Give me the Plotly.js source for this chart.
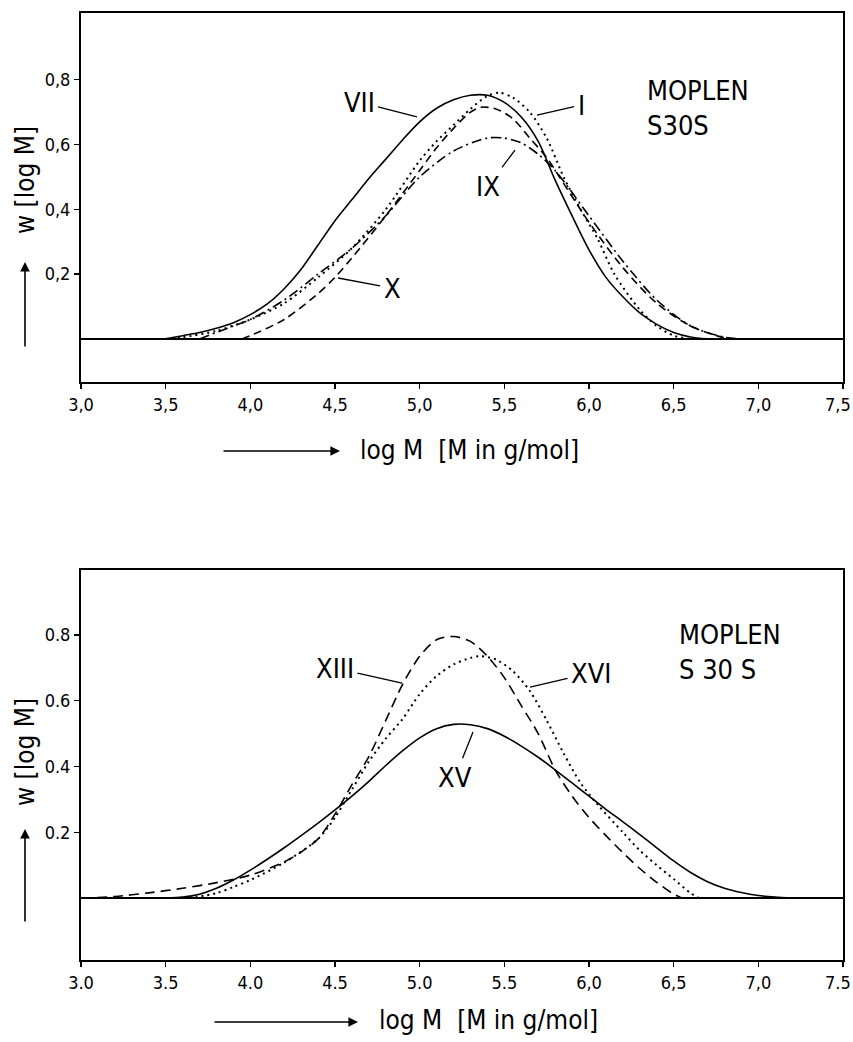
<!DOCTYPE html>
<html><head><meta charset="utf-8">
<script src="https://cdn.plot.ly/plotly-3.0.1.min.js"></script>
<style>html,body{margin:0;padding:0;background:#fff}</style>
</head><body><div id="chart" style="width:853px;height:1042px"></div>
<script>
// ---- Top panel (MOPLEN S30S: I, VII, IX, X) ----
const xVII = [3.5,3.6,3.7,3.8,3.9,4.0,4.1,4.2,4.3,4.4,4.5,4.6,4.7,4.8,4.9,5.0,5.1,5.2,5.3,5.4,5.5,5.6,5.7,5.8,5.9,6.0,6.1,6.2,6.3,6.4,6.5,6.6,6.7];
const yVII = [0,0.01,0.02,0.033,0.05,0.075,0.108,0.155,0.215,0.29,0.365,0.43,0.495,0.555,0.615,0.67,0.712,0.738,0.752,0.752,0.73,0.685,0.61,0.49,0.38,0.275,0.19,0.13,0.08,0.045,0.02,0.006,0];
const xI = [3.5,3.6,3.8,4.0,4.2,4.4,4.6,4.8,5.0,5.1,5.2,5.3,5.4,5.47,5.55,5.65,5.75,5.85,5.95,6.05,6.15,6.3,6.4,6.5,6.6];
const yI = [0,0.005,0.025,0.06,0.11,0.19,0.28,0.40,0.55,0.61,0.66,0.71,0.75,0.76,0.745,0.70,0.62,0.50,0.40,0.31,0.20,0.09,0.04,0.01,0];
const xIX = [3.7,3.9,4.0,4.2,4.4,4.6,4.8,5.0,5.2,5.4,5.5,5.6,5.7,5.8,6.0,6.2,6.4,6.6,6.8,6.9];
const yIX = [0,0.04,0.06,0.12,0.20,0.28,0.38,0.50,0.58,0.62,0.62,0.605,0.57,0.52,0.38,0.24,0.12,0.04,0.005,0];
const xX = [3.95,4.0,4.2,4.4,4.5,4.6,4.8,5.0,5.1,5.2,5.3,5.36,5.45,5.55,5.65,5.75,5.85,6.0,6.2,6.4,6.6,6.8,6.85];
const yX = [0,0.01,0.06,0.14,0.19,0.25,0.38,0.52,0.59,0.65,0.70,0.715,0.71,0.68,0.62,0.56,0.48,0.36,0.22,0.11,0.04,0.003,0];

// ---- Bottom panel (MOPLEN S30S: XIII, XV, XVI) ----
const xXV = [3.5,3.6,3.7,3.8,3.9,4.0,4.1,4.2,4.3,4.4,4.5,4.6,4.7,4.8,4.9,5.0,5.1,5.2,5.3,5.4,5.5,5.6,5.7,5.8,5.9,6.0,6.1,6.2,6.3,6.4,6.5,6.6,6.7,6.8,6.9,7.0,7.1,7.2];
const yXV = [0,0.003,0.012,0.03,0.055,0.085,0.118,0.153,0.19,0.228,0.268,0.31,0.355,0.403,0.448,0.487,0.515,0.528,0.527,0.515,0.492,0.462,0.428,0.39,0.35,0.31,0.27,0.232,0.193,0.153,0.113,0.078,0.05,0.03,0.017,0.008,0.003,0];
const xXIII = [3.0,3.2,3.4,3.6,3.8,4.0,4.2,4.3,4.4,4.5,4.6,4.7,4.8,4.9,5.0,5.1,5.2,5.3,5.4,5.5,5.6,5.7,5.8,5.9,6.0,6.1,6.2,6.3,6.4,6.5,6.55];
const yXIII = [0,0.005,0.016,0.03,0.047,0.07,0.11,0.14,0.18,0.255,0.345,0.43,0.54,0.65,0.735,0.785,0.795,0.78,0.735,0.67,0.585,0.50,0.39,0.31,0.245,0.19,0.138,0.09,0.048,0.012,0];
const xXVI = [3.64,3.8,3.9,4.0,4.2,4.4,4.5,4.6,4.7,4.8,4.9,5.0,5.1,5.2,5.3,5.36,5.45,5.55,5.65,5.75,5.85,5.95,6.05,6.2,6.3,6.4,6.5,6.6,6.65];
const yXVI = [0,0.015,0.034,0.055,0.108,0.18,0.245,0.33,0.415,0.485,0.545,0.62,0.675,0.71,0.73,0.735,0.725,0.69,0.63,0.54,0.44,0.35,0.285,0.20,0.145,0.10,0.058,0.015,0];

const xTickVals = [3.0,3.5,4.0,4.5,5.0,5.5,6.0,6.5,7.0,7.5];
const xTickTextTop = ['3,0','3,5','4,0','4,5','5,0','5,5','6,0','6,5','7,0','7,5'];
const xTickTextBottom = ['3.0','3.5','4.0','4.5','5.0','5.5','6,0','6,5','7,0','7.5'];
const yTickVals = [0.2,0.4,0.6,0.8];
const yTickTextTop = ['0,2','0,4','0,6','0,8'];
const yTickTextBottom = ['0.2','0.4','0.6','0.8'];

const FONT = "'DejaVu Sans Condensed', 'Liberation Sans Narrow', 'Arial Narrow', 'DejaVu Sans', sans-serif";
const W = 853, H = 1042;
const px = v => v / W;
const py = v => 1 - v / H;

function tr(x, y, xa, ya, dash, width) {
  return {x: x, y: y, xaxis: xa, yaxis: ya, type: 'scatter', mode: 'lines',
    line: {color: '#000', width: width || 1.6, dash: dash, shape: 'spline', smoothing: 0.8}, hoverinfo: 'skip'};
}

const data = [
  tr(xVII, yVII, 'x', 'y', 'solid', 1.6),
  tr(xI, yI, 'x', 'y', '2px,4px', 2),
  tr(xIX, yIX, 'x', 'y', '10px,4px,2px,4px', 1.6),
  tr(xX, yX, 'x', 'y', '8px,5px', 1.6),
  tr(xXV, yXV, 'x2', 'y2', 'solid', 1.6),
  tr(xXIII, yXIII, 'x2', 'y2', '10px,6px', 1.6),
  tr(xXVI, yXVI, 'x2', 'y2', '2px,4px', 2)
];

// the last tick label sits at the page edge; it is drawn right-aligned as an annotation
const lastIdx = xTickVals.length - 1;
function xaxis(anchor, ticktext) {
  const tt = ticktext.slice(0, lastIdx).concat(['']);
  return {domain: [px(81), px(843)], anchor: anchor, range: [3.0, 7.5],
    tickmode: 'array', tickvals: xTickVals, ticktext: tt,
    ticks: 'outside', ticklen: 5, tickwidth: 1.5, tickcolor: '#000',
    showline: true, linecolor: '#000', linewidth: 2, mirror: true,
    showgrid: false, zeroline: false,
    tickfont: {family: FONT, size: 18, color: '#000'}, fixedrange: true};
}
function yaxis(domain, range, anchor, ticktext) {
  return {domain: domain, anchor: anchor, range: range,
    tickmode: 'array', tickvals: yTickVals, ticktext: ticktext,
    ticks: 'outside', ticklen: 5, tickwidth: 1.5, tickcolor: '#000',
    showline: true, linecolor: '#000', linewidth: 2, mirror: true,
    showgrid: false, zeroline: true, zerolinecolor: '#000', zerolinewidth: 1.6,
    tickfont: {family: FONT, size: 18, color: '#000'}, fixedrange: true};
}

function lab(text, ax, ay, x, y, xr, yr) {
  return {text: text, x: x, y: y, ax: ax, ay: ay, xref: xr, yref: yr, axref: xr, ayref: yr,
    showarrow: true, arrowhead: 0, arrowwidth: 1.3, arrowcolor: '#000', standoff: 0, startstandoff: 2,
    font: {family: FONT, size: 27, color: '#000'}};
}
function txt(text, x, y, xr, yr, size, anchorX, anchorY) {
  return {text: text, x: x, y: y, xref: xr, yref: yr, showarrow: false,
    xanchor: anchorX || 'center', yanchor: anchorY || 'middle', align: 'left',
    font: {family: FONT, size: size, color: '#000'}};
}
function arrowAnn(xTip, yTip, axOff, ayOff) {
  return {text: '', x: xTip, y: yTip, xref: 'paper', yref: 'paper', ax: axOff, ay: ayOff,
    showarrow: true, arrowhead: 2, arrowsize: 1.2, arrowwidth: 1.6, arrowcolor: '#000', standoff: 0};
}

const annotations = [
  lab('VII', 4.642, 0.731, 4.984, 0.685, 'x', 'y'),
  lab('X', 4.837, 0.157, 4.518, 0.188, 'x', 'y'),
  lab('I', 5.953, 0.722, 5.693, 0.691, 'x', 'y'),
  lab('IX', 5.404, 0.472, 5.563, 0.583, 'x', 'y'),
  txt('MOPLEN<br>S30S', 6.33, 0.82, 'x', 'y', 27, 'left', 'top'),
  lab('XIII', 4.50, 0.699, 4.896, 0.653, 'x2', 'y2'),
  lab('XVI', 6.012, 0.684, 5.652, 0.641, 'x2', 'y2'),
  lab('XV', 5.209, 0.368, 5.315, 0.505, 'x2', 'y2'),
  txt('MOPLEN<br>S 30 S', 6.52, 0.855, 'x2', 'y2', 27, 'left', 'top'),
  // last x tick labels, right-aligned at the page edge
  txt(xTickTextTop[lastIdx], 1, py(404), 'paper', 'paper', 18, 'right'),
  txt(xTickTextBottom[lastIdx], 1, py(982), 'paper', 'paper', 18, 'right'),
  // y titles
  Object.assign(txt('w [log M]', px(25), py(180), 'paper', 'paper', 26), {textangle: -90}),
  arrowAnn(px(25), py(262), 0, 86),
  Object.assign(txt('w [log M]', px(25), py(752), 'paper', 'paper', 26), {textangle: -90}),
  arrowAnn(px(25), py(829), 0, 94),
  // x titles
  txt('log M\u00a0\u00a0[M in g/mol]', px(358), py(450), 'paper', 'paper', 26, 'left'),
  arrowAnn(px(340), py(451), -118, 0),
  txt('log M\u00a0\u00a0[M in g/mol]', px(377), py(1020), 'paper', 'paper', 26, 'left'),
  arrowAnn(px(358), py(1022), -145, 0)
];

const layout = {
  width: W, height: H, margin: {l: 0, r: 0, t: 0, b: 0},
  paper_bgcolor: '#fff', plot_bgcolor: '#fff', showlegend: false,
  xaxis: xaxis('y', xTickTextTop),
  yaxis: yaxis([py(382), py(13)], [-0.133, 1.006], 'x', yTickTextTop),
  xaxis2: xaxis('y2', xTickTextBottom),
  yaxis2: yaxis([py(960), py(570)], [-0.188, 0.997], 'x2', yTickTextBottom),
  annotations: annotations
};

Plotly.newPlot('chart', data, layout, {staticPlot: true, displayModeBar: false});
</script></body></html>
